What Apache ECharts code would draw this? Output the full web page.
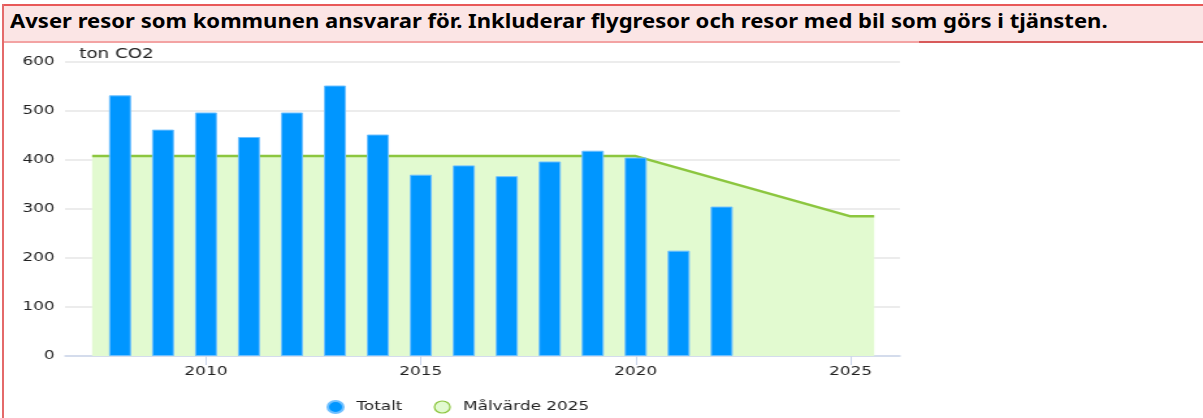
<!DOCTYPE html>
<html>
<head>
<meta charset="utf-8">
<script src="https://cdn.jsdelivr.net/npm/echarts@6/dist/echarts.min.js"></script>
<style>
  html, body { margin: 0; padding: 0; background: #fff; overflow: hidden; }
  /* originalbilden är utdragen på bredden, så diagrammet ritas smalare och skalas */
  #chart { position: absolute; left: 0; top: 0; width: 925px; height: 418px; transform: scaleX(1.30054); transform-origin: 0 0; }
  .leftline { position: absolute; left: 2px; top: 4px; width: 2px; height: 414px; background: #e46a6a; z-index: 3; }
  .head {
    position: absolute; left: 2px; top: 4px; width: 1201px; height: 35px;
    background: #fbe5e5; border-top: 2px solid #e85858; border-bottom: 2px solid #f3a3a3;
    z-index: 2;
  }
  .head span {
    position: absolute; left: 8px; top: 2px;
    font-family: "Noto Sans", Arial, sans-serif; font-weight: bold; font-size: 19px; color: #000;
    white-space: nowrap; transform: scaleX(1.16); transform-origin: 0 0;
  }
  .headend { position: absolute; left: 919px; top: 41px; width: 284px; height: 2px; background: #d85a5a; z-index: 3; }
</style>
</head>
<body>
<div id="chart"></div>
<div class="head"><span>Avser resor som kommunen ansvarar för. Inkluderar flygresor och resor med bil som görs i tjänsten.</span></div>
<div class="headend"></div>
<div class="leftline"></div>
<script>
// utsläpp från tjänsteresor, ton CO2
var years = [2008, 2009, 2010, 2011, 2012, 2013, 2014, 2015, 2016, 2017, 2018, 2019, 2020, 2021, 2022];
var totalt = [532, 462, 497, 447, 497, 552, 452, 370, 389, 367, 397, 419, 405, 215, 305];
var malYears = [2007.35, 2020, 2025, 2025.55];
var malVarde = [408, 408, 285, 285];
var xTicks = [2010, 2015, 2020, 2025];

var font = '"DejaVu Sans", Verdana, sans-serif';
var chart = echarts.init(document.getElementById('chart'));

var barData = years.map(function (y, i) { return [y, totalt[i]]; });
var lineData = malYears.map(function (y, i) { return [y, malVarde[i]]; });

var option = {
  animation: false,
  grid: { left: 50, right: 233, top: 62, bottom: 62 },
  legend: {
    left: 246,
    top: 395,
    itemWidth: 12,
    itemHeight: 12,
    itemGap: 24,
    textStyle: { fontFamily: font, fontSize: 13, color: '#222', padding: [0, 0, 0, 5] },
    data: [
      { name: 'Totalt', icon: 'circle', itemStyle: { color: '#0096ff' } },
      { name: 'Målvärde 2025', icon: 'circle', itemStyle: { color: '#e2fad0', borderColor: '#8cc63f', borderWidth: 1.2 } }
    ]
  },
  xAxis: {
    type: 'value',
    min: 2006.72,
    max: 2026.15,
    axisLine: { lineStyle: { color: '#ccd6eb', width: 1.5 } },
    axisTick: { show: true, customValues: xTicks, length: 9, lineStyle: { color: '#ccd6eb' } },
    axisLabel: {
      customValues: xTicks, margin: 9, fontFamily: font, fontSize: 13, color: '#222',
      formatter: function (v) { return String(v); }
    },
    splitLine: { show: false }
  },
  yAxis: {
    type: 'value',
    min: 0,
    max: 600,
    interval: 100,
    name: 'ton CO2',
    nameLocation: 'end',
    nameGap: 1,
    nameTextStyle: { align: 'left', padding: [0, 0, 0, 11], fontFamily: font, fontSize: 14, color: '#222' },
    axisLine: { show: false },
    axisTick: { show: false },
    axisLabel: { margin: 8, fontFamily: font, fontSize: 13, color: '#222' },
    splitLine: { lineStyle: { color: '#e6e6e6', width: 1.5 } }
  },
  series: [
    {
      name: 'Målvärde 2025',
      type: 'line',
      data: lineData,
      showSymbol: false,
      z: 1,
      lineStyle: { color: '#8cc63f', width: 2.5 },
      itemStyle: { color: '#8cc63f' },
      areaStyle: { color: '#e2fad0', opacity: 1 }
    },
    {
      name: 'Totalt',
      type: 'bar',
      data: barData,
      barWidth: 17,
      z: 3,
      itemStyle: { color: '#0096ff', borderColor: '#6fc0ff', borderWidth: 1 }
    }
  ]
};
chart.setOption(option);
</script>
</body>
</html>
